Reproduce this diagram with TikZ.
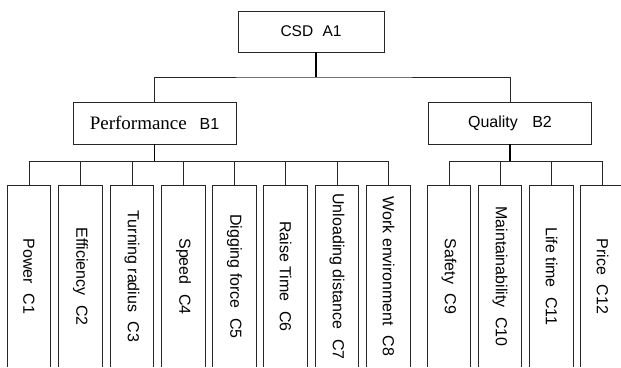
\documentclass[tikz,border=0pt]{standalone}
\usepackage{fontspec}
\setmainfont{Liberation Sans}
\newfontfamily\timesf{Liberation Serif}
\begin{document}
\begin{tikzpicture}[x=1pt,y=-1pt,
  box/.style={draw=black!85, line width=0.8pt, rectangle, inner sep=0pt},
  cbox/.style={draw=none, rectangle, inner sep=0pt, minimum width=43pt, minimum height=181pt,
    font=\fontsize{16}{19}\selectfont},
  boxline/.style={draw=black!85, line width=0.8pt},
  stem/.style={draw=black, line width=1.6pt},
  hline/.style={draw=black!85, line width=0.9pt}]
\useasboundingbox (0,0) rectangle (621,367);
% top
\node[box, minimum width=146pt, minimum height=41pt, font=\fontsize{15.5}{18}\selectfont] (A1) at (311,31.5) {CSD\hspace{0.6em}A1};
\node[box, minimum width=163pt, minimum height=42pt, font=\fontsize{16}{19}\selectfont] (B1) at (154.5,123) {{\timesf\fontsize{19}{22}\selectfont Performance}\hspace{0.8em}B1};
\node[box, minimum width=163pt, minimum height=42pt, font=\fontsize{16}{19}\selectfont] (B2) at (510,123) {Quality\hspace{0.9em}B2};
\coordinate (jA) at (316,77);
\draw[stem] (A1.south -| jA) -- (jA);
\draw[hline] (B1.north) |- (jA) -| (B2.north);
% children
\node[cbox] (C1) at (29,276.5) {\rotatebox{-90}{Power\hspace{0.6em}C1}};
\node[cbox] (C2) at (80.5,276.5) {\rotatebox{-90}{Efficiency\hspace{0.6em}C2}};
\node[cbox] (C3) at (132,276.5) {\rotatebox{-90}{Turning radius\hspace{0.6em}C3}};
\node[cbox] (C4) at (183.5,276.5) {\rotatebox{-90}{Speed\hspace{0.6em}C4}};
\node[cbox] (C5) at (234.5,276.5) {\rotatebox{-90}{Digging force\hspace{0.6em}C5}};
\node[cbox] (C6) at (285.5,276.5) {\rotatebox{-90}{Raise Time\hspace{0.6em}C6}};
\node[cbox] (C7) at (337,276.5) {\rotatebox{-90}{Unloading distance\hspace{0.6em}C7}};
\node[cbox] (C8) at (388.5,276.5) {\rotatebox{-90}{Work environment\hspace{0.6em}C8}};
\node[cbox] (C9) at (449,276.5) {\rotatebox{-90}{Safety\hspace{0.6em}C9}};
\node[cbox] (C10) at (500,276.5) {\rotatebox{-90}{Maintainability\hspace{0.6em}C10}};
\node[cbox] (C11) at (551.5,276.5) {\rotatebox{-90}{Life time\hspace{0.6em}C11}};
\node[cbox] (C12) at (602.5,276.5) {\rotatebox{-90}{Price\hspace{0.6em}C12}};
\foreach \n in {C1,C2,C3,C4,C5,C6,C7,C8,C9,C10,C11,C12}
  \draw[boxline] (\n.south west) -- (\n.north west) -- (\n.north east) -- (\n.south east);
% B1 group
\path (B1.south) ++(0,17) coordinate (jB1);
\draw[stem] (B1.south) -- (jB1);
\draw[hline] (C1.north) |- (jB1) -| (C8.north);
\foreach \n in {C2,C3,C4,C5,C6,C7}
  \draw[hline] (\n.north) -- (\n.north |- jB1);
% B2 group
\path (B2.south) ++(0,17) coordinate (jB2);
\draw[stem] (B2.south) -- (jB2);
\draw[hline] (C9.north) |- (jB2) -| (C12.north);
\foreach \n in {C10,C11}
  \draw[hline] (\n.north) -- (\n.north |- jB2);
\end{tikzpicture}
\end{document}
